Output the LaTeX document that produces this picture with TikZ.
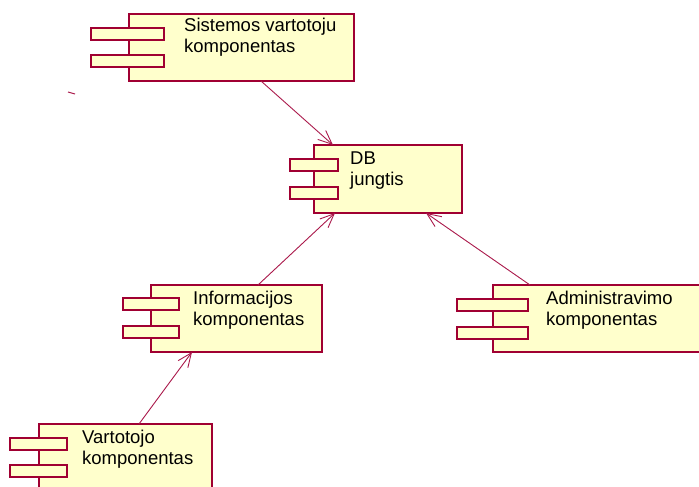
\documentclass[tikz,border=0pt]{standalone}
\usepackage{fontspec}
\setmainfont{Liberation Sans}
\usetikzlibrary{arrows.meta,calc}
\definecolor{umlborder}{RGB}{160,0,50}
\definecolor{umlfill}{RGB}{255,255,204}
\definecolor{umlline}{RGB}{170,25,75}

\begin{document}
\begin{tikzpicture}[x=1pt,y=-1pt,
  compbox/.style={draw=umlborder, fill=umlfill, line width=1.3pt, inner sep=0pt,
    outer sep=0pt, anchor=north west, minimum width=#1},
  compbox/.default=100pt,
  tabbox/.style={draw=umlborder, fill=umlfill, line width=1.3pt, inner sep=0pt,
    outer sep=0pt, anchor=north west, minimum height=12pt, minimum width=#1},
  complabel/.style={anchor=base west, inner sep=0pt, align=left,
    font=\fontsize{18.5}{21}\selectfont},
  dep/.style={draw=umlline, line width=0.9pt,
    -{Straight Barb[length=14pt, width=12pt, line width=0.9pt]}}]

\clip (0,0) rectangle (699,487);
\fill[white] (0,0) rectangle (699,487);

% Sistemos vartotoju komponentas
\node[compbox=225pt, minimum height=67pt] (sys) at (129,14) {};
\node[tabbox=73pt] (systab1) at (91,28) {};
\node[tabbox=73pt] (systab2) at (91,55) {};
\node[complabel] (syslbl) at ($(sys.north west)+(55,39)$) {Sistemos vartotoju\\komponentas};

% DB jungtis
\node[compbox=148pt, minimum height=68pt] (db) at (314,145) {};
\node[tabbox=48pt] (dbtab1) at (290,159) {};
\node[tabbox=48pt] (dbtab2) at (290,187) {};
\node[complabel] (dblbl) at ($(db.north west)+(36,40)$) {DB\\jungtis};

% Informacijos komponentas
\node[compbox=171pt, minimum height=67pt] (info) at (151,285) {};
\node[tabbox=56pt] (infotab1) at (123,298) {};
\node[tabbox=56pt] (infotab2) at (123,326) {};
\node[complabel] (infolbl) at ($(info.north west)+(42,40)$) {Informacijos\\komponentas};

% Administravimo komponentas
\node[compbox=220pt, minimum height=67pt] (admin) at (493,285) {};
\node[tabbox=71pt] (admintab1) at (457,299) {};
\node[tabbox=71pt] (admintab2) at (457,327) {};
\node[complabel] (adminlbl) at ($(admin.north west)+(53,40)$) {Administravimo\\komponentas};

% Vartotojo komponentas
\node[compbox=173pt, minimum height=75pt] (user) at (39,424) {};
\node[tabbox=57pt] (usertab1) at (10,438) {};
\node[tabbox=57pt] (usertab2) at (10,465) {};
\node[complabel] (userlbl) at ($(user.north west)+(43,40)$) {Vartotojo\\komponentas};

% dependencies
\draw[dep] ($(sys.south west)+(132,0)$) -- ($(db.north west)+(19,0)$);
\draw[dep] ($(info.north west)+(107,0)$) -- ($(db.south west)+(21,0)$);
\draw[dep] ($(admin.north west)+(37,0)$) -- ($(db.south west)+(112,0)$);
\draw[dep] ($(user.north west)+(100,0)$) -- ($(info.south west)+(41,0)$);

% stray mark
\draw[umlline, line width=1pt] (68,92) -- (75,94);
\end{tikzpicture}
\end{document}
